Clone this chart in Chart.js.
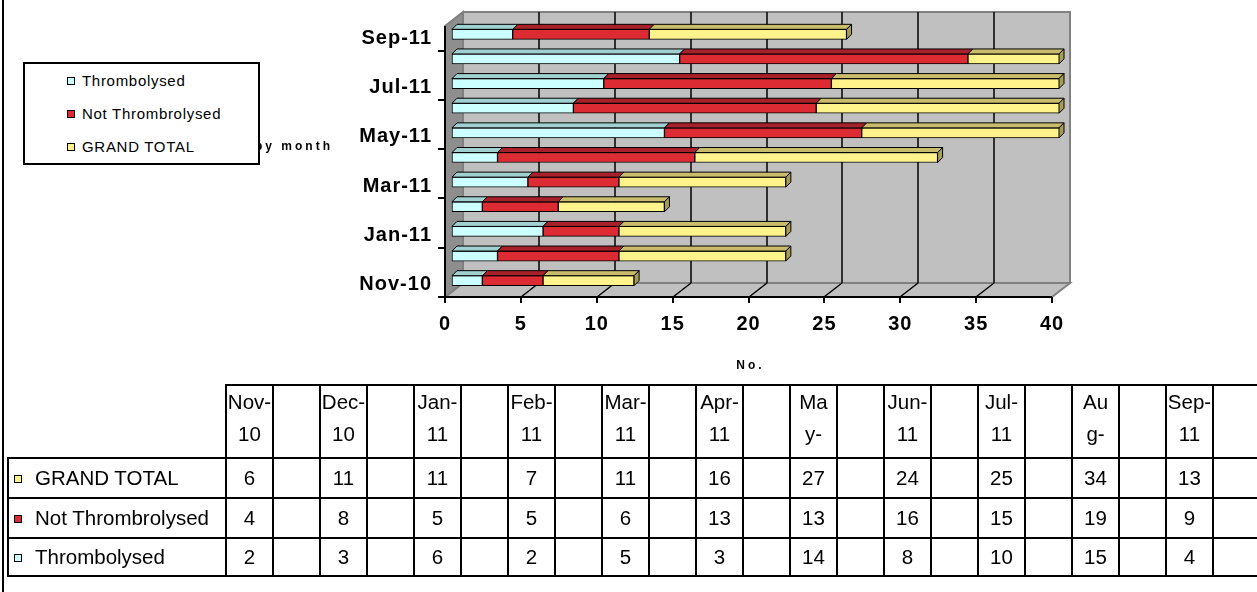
<!DOCTYPE html>
<html>
<head>
<meta charset="utf-8">
<script src="https://cdn.jsdelivr.net/npm/chart.js@4.4.0/dist/chart.umd.min.js"></script>
<style>
    html, body { margin: 0; padding: 0; background: #fff; }
    body { width: 1257px; height: 592px; position: relative; overflow: hidden; font-family: "Liberation Sans", Arial, sans-serif; }
    #chart { position: absolute; left: 0; top: 0; }
    #frame { position: absolute; left: 2px; top: 0; width: 2px; height: 592px; background: #000; }
    #legend { position: absolute; left: 23px; top: 62px; width: 233px; height: 99px; border: 2px solid #000; background: #fff; }
    #legend .item { position: absolute; left: 42px; height: 20px; line-height: 20px; font-size: 15px; letter-spacing: 0.7px; white-space: nowrap; }
    .key { display: inline-block; width: 6px; height: 6px; border: 1px solid #000; vertical-align: middle; position: relative; top: -1px; }
    #legend .key { margin-right: 7px; }
    #tbl { position: absolute; left: 7px; top: 384px; border-collapse: collapse; table-layout: fixed; width: 1252px; font-size: 20.5px; color: #000; }
    #tbl td { border: 2px solid #000; padding: 0; text-align: center; vertical-align: middle; overflow: hidden; white-space: nowrap; }
    #tbl tr.head td { height: 71px; vertical-align: top; line-height: 32px; }
    #tbl tr.head td.corner { border: none; }
    #tbl td.lab { text-align: left; padding-left: 5px; }
    #tbl td.lab .key { margin-right: 13px; }
</style>
</head>
<body>
<canvas id="chart" width="1257" height="385"></canvas>
<div id="frame"></div>
<div id="legend"></div>
<table id="tbl"></table>
<script>
/* ── 数据 ── */
const months = ['Nov-10', 'Dec-10', 'Jan-11', 'Feb-11', 'Mar-11', 'Apr-11', 'May-11', 'Jun-11', 'Jul-11', 'Aug-11', 'Sep-11'];
// 表头单元格里实际显示的两行（窄列把月份折断了）
const headLines = [['Nov-', '10'], ['Dec-', '10'], ['Jan-', '11'], ['Feb-', '11'], ['Mar-', '11'], ['Apr-', '11'],
    ['Ma', 'y-'], ['Jun-', '11'], ['Jul-', '11'], ['Au', 'g-'], ['Sep-', '11']];
const seriesNames = ['Thrombolysed', 'Not Thrombrolysed', 'GRAND TOTAL'];
const thrombolysed = [2, 3, 6, 2, 5, 3, 14, 8, 10, 15, 4];
const notThrombolysed = [4, 8, 5, 5, 6, 13, 13, 16, 15, 19, 9];
const grandTotal = [6, 11, 11, 7, 11, 16, 27, 24, 25, 34, 13];
const seriesData = [thrombolysed, notThrombolysed, grandTotal];
const xMax = 40;
const xStep = 5;
const axisTitleX = 'No.';
const axisTitleY = 'by month';

/* ── 样式 ── */
const FONT = '"Liberation Sans", Arial, sans-serif';
const faceColors = ['#ccffff', '#dd2b33', '#fff38c'];
const topColors = ['#a0d0d0', '#a8202a', '#c9bd6c'];
const sideColors = ['#86b4b4', '#8a1a22', '#a59c55'];
const WALL = { dx: 18, dy: -14 };              // 背景墙深度
const BAR = { dx: 7, dy: -4, bx: 5, by: -5 };  // 柱子位置偏移 + 柱子厚度

function poly(ctx, pts) {
    ctx.beginPath();
    ctx.moveTo(pts[0][0], pts[0][1]);
    for (let i = 1; i < pts.length; i++) ctx.lineTo(pts[i][0], pts[i][1]);
    ctx.closePath();
}

const box3d = {
    id: 'box3d',
    beforeDraw(chart) {
        const { ctx, chartArea: a, scales: { x, y } } = chart;
        const { dx, dy } = WALL;
        ctx.save();
        // 地板
        ctx.fillStyle = '#c0c0c0';
        poly(ctx, [[a.left, a.bottom], [a.right, a.bottom], [a.right + dx, a.bottom + dy], [a.left + dx, a.bottom + dy]]);
        ctx.fill();
        ctx.strokeStyle = '#808080';
        ctx.lineWidth = 2;
        ctx.stroke();
        // 背景墙
        ctx.fillStyle = '#c0c0c0';
        ctx.fillRect(a.left + dx, a.top + dy, a.right - a.left, a.bottom - a.top);
        ctx.strokeRect(a.left + dx, a.top + dy, a.right - a.left, a.bottom - a.top);
        // 左侧墙
        ctx.fillStyle = '#8e8e8e';
        poly(ctx, [[a.left, a.top], [a.left + dx, a.top + dy], [a.left + dx, a.bottom + dy], [a.left, a.bottom]]);
        ctx.fill();
        ctx.stroke();

        // 网格线：墙上竖线 + 地板斜线
        ctx.strokeStyle = '#000';
        ctx.lineWidth = 1.5;
        for (let v = xStep; v < xMax; v += xStep) {
            const px = Math.round(x.getPixelForValue(v));
            ctx.beginPath();
            ctx.moveTo(px + dx, a.top + dy);
            ctx.lineTo(px + dx, a.bottom + dy);
            ctx.moveTo(px, a.bottom);
            ctx.lineTo(px + dx, a.bottom + dy);
            ctx.stroke();
        }
        // 坐标轴
        ctx.lineWidth = 2;
        ctx.beginPath();
        ctx.moveTo(a.left, a.top);
        ctx.lineTo(a.left, a.bottom);
        ctx.lineTo(a.right, a.bottom);
        for (let v = 0; v <= xMax; v += xStep) {
            const px = Math.round(x.getPixelForValue(v));
            ctx.moveTo(px, a.bottom);
            ctx.lineTo(px, a.bottom + 6);
        }
        for (let i = -0.5; i < months.length - 1; i += 2) {
            const py = Math.round(y.getPixelForValue(i));
            ctx.moveTo(a.left - 7, py);
            ctx.lineTo(a.left, py);
        }
        ctx.stroke();
        ctx.restore();
        ctx.letterSpacing = '1px';
    },
    beforeDatasetsDraw(chart) {
        const ctx = chart.ctx;
        ctx.letterSpacing = '0px';
        ctx.save();
        ctx.translate(BAR.dx, BAR.dy);
    },
    afterDatasetsDraw(chart) {
        const { ctx, chartArea: a } = chart;
        const last = chart.data.datasets.length - 1;
        ctx.lineWidth = 1;
        ctx.strokeStyle = '#000';
        chart.data.datasets.forEach((ds, d) => {
            chart.getDatasetMeta(d).data.forEach(el => {
                const p = el.getProps(['x', 'y', 'base', 'height'], true);
                const left = Math.min(p.base, p.x);
                const right = Math.min(Math.max(p.base, p.x), a.right);
                if (right <= left) return;
                const top = p.y - p.height / 2;
                const bottom = p.y + p.height / 2;
                ctx.fillStyle = topColors[d];
                poly(ctx, [[left, top], [left + BAR.bx, top + BAR.by], [right + BAR.bx, top + BAR.by], [right, top]]);
                ctx.fill();
                ctx.stroke();
                if (d === last || Math.max(p.base, p.x) >= a.right) {
                    ctx.fillStyle = sideColors[d];
                    poly(ctx, [[right, top], [right + BAR.bx, top + BAR.by], [right + BAR.bx, bottom + BAR.by], [right, bottom]]);
                    ctx.fill();
                    ctx.stroke();
                }
            });
        });
        ctx.restore();
    },
    afterDraw(chart) {
        const { ctx, scales: { x } } = chart;
        ctx.save();
        ctx.fillStyle = '#000';
        ctx.font = 'bold 12px ' + FONT;
        ctx.letterSpacing = '3px';
        ctx.textBaseline = 'middle';
        ctx.textAlign = 'center';
        ctx.fillText(axisTitleX, (x.left + x.right) / 2 + 2, 366);
        ctx.textAlign = 'right';
        ctx.fillText(axisTitleY, 333, 147);
        ctx.restore();
    },
};

new Chart(document.getElementById('chart'), {
    type: 'bar',
    data: {
        labels: months,
        datasets: seriesNames.map((name, i) => ({
            label: name,
            data: seriesData[i],
            backgroundColor: faceColors[i],
            borderColor: '#000',
            borderWidth: 1,
            borderSkipped: false,
            barThickness: 10,
            clip: { left: 3, top: 3, right: 0, bottom: 3 },
        })),
    },
    options: {
        indexAxis: 'y',
        responsive: false,
        animation: false,
        devicePixelRatio: 1,
        layout: { padding: { left: 0, top: 26, right: 205, bottom: 0 } },
        plugins: { legend: { display: false }, tooltip: { enabled: false } },
        scales: {
            x: {
                stacked: true,
                min: 0,
                max: xMax,
                ticks: { stepSize: xStep, padding: 15, color: '#000', font: { family: FONT, size: 20, weight: 'bold' } },
                grid: { display: false, drawTicks: false },
                border: { display: false },
                afterFit: s => { s.height = 88; },
            },
            y: {
                stacked: true,
                reverse: true,
                ticks: {
                    autoSkip: false,
                    padding: 13,
                    color: '#000',
                    font: { family: FONT, size: 20, weight: 'bold' },
                    callback: (v, i) => (i % 2 === 0 ? months[i] : ''),
                },
                grid: { display: false, drawTicks: false },
                border: { display: false },
                afterFit: s => { s.width = 445; },
            },
        },
    },
    plugins: [box3d],
});

/* ── 图例 ── */
const legendTops = [7, 40, 73];
document.getElementById('legend').innerHTML = seriesNames.map((name, i) =>
    `<div class="item" style="top:${legendTops[i]}px"><span class="key" style="background:${faceColors[i]}"></span>${name}</div>`
).join('');

/* ── 数据表 ── */
let html = '<colgroup><col style="width:218px">' + months.map(() => '<col style="width:47px"><col style="width:47px">').join('') + '</colgroup>';
html += '<tr class="head"><td class="corner"></td>' + headLines.map(l => `<td>${l[0]}<br>${l[1]}</td><td></td>`).join('') + '</tr>';
const rowHeights = [40, 40, 38];
[2, 1, 0].forEach((s, r) => {
    html += `<tr style="height:${rowHeights[r]}px"><td class="lab"><span class="key" style="background:${faceColors[s]}"></span>${seriesNames[s]}</td>`;
    html += seriesData[s].map(v => `<td>${v}</td><td></td>`).join('') + '</tr>';
});
document.getElementById('tbl').innerHTML = html;
</script>
</body>
</html>
